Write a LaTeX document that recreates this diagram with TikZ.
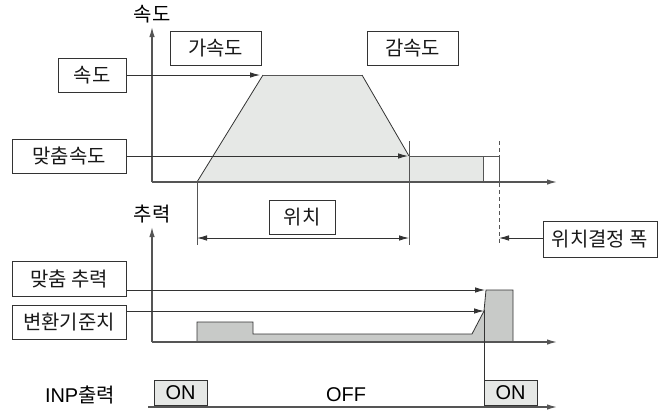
\documentclass[tikz,border=0pt]{standalone}
\usepackage{fontspec}
\setmainfont{Noto Sans CJK KR}
\newfontfamily\lat{Liberation Sans}
\usetikzlibrary{arrows.meta}
\definecolor{lnc}{HTML}{333333}
\definecolor{axc}{HTML}{555555}
\definecolor{fillA}{HTML}{E6E8E6}
\definecolor{fillB}{HTML}{C8CAC8}
\tikzset{
  lbox/.style={draw=lnc, line width=0.9bp, inner sep=0pt, minimum height=34bp, font=\fontsize{20}{22}\selectfont, text=black!90},
  onbox/.style={draw=lnc, fill=fillA, line width=0.9bp, inner sep=0pt, minimum width=53bp, minimum height=25bp, font=\lat\fontsize{20}{22}\selectfont},
  plain/.style={inner sep=0pt, font=\fontsize{20}{22}\selectfont},
  arr/.style={draw=lnc, line width=0.8bp, -{Latex[length=10bp,width=5.5bp]}},
  darr/.style={draw=lnc, line width=0.8bp, {Latex[length=10bp,width=5.5bp]}-{Latex[length=10bp,width=5.5bp]}},
  axis/.style={draw=axc, line width=1.3bp, -{Latex[length=10bp,width=5.5bp]}},
  ln/.style={draw=lnc, line width=0.8bp},
}
\begin{document}
\begin{tikzpicture}[x=1bp,y=-1bp]
\useasboundingbox (0,0) rectangle (667,414);
% fills
\fill[fillA] (197,182) -- (263,75) -- (362,75) -- (409,156) -- (483,156) -- (483,182) -- cycle;
\fill[fillB] (197,342) -- (197,322) -- (253,322) -- (253,334) -- (472,334) -- (484,311) -- (486,290) -- (513,290) -- (513,342) -- cycle;
% speed profile outline
\draw[ln] (197,182) -- (263,75);
\draw[draw=axc, line width=1bp] (263,75) -- (362,75);
\draw[ln] (362,75) -- (409,156);
\draw[draw=axc, line width=1bp] (409,156) -- (499,156);
\draw[draw=axc, line width=1bp] (483,156) -- (483,182);
\draw[draw=axc, line width=1bp] (499,156) -- (499,182);
% force profile outline
\draw[ln] (197,342) -- (197,322) -- (253,322) -- (253,334) -- (472,334) -- (484,311) -- (486,290) -- (513,290) -- (513,342);
% axes
\coordinate (o1) at (152,182);
\coordinate (o2) at (152,342);
\coordinate (o3) at (148,407);
\draw[axis] (o1) -- (152,27);
\draw[axis] (o1) -- (557,182);
\draw[axis] (o2) -- (152,227);
\draw[axis] (o2) -- (557,342);
\draw[axis] (o3) -- (557,407);
\node[plain] (ylab1) at (152,14) {속도};
\node[plain] (ylab2) at (152,214) {추력};
% ticks
\draw[ln, line width=1bp, draw=axc] (197,182) -- (197,245);
\draw[ln, line width=1bp, draw=axc] (409,141) -- (409,245);
\draw[draw=axc, line width=1bp, dash pattern=on 4bp off 3bp] (499,141) -- (499,245);
% boxes
\node[lbox, minimum width=91bp] (acc) at (215.5,48) {가속도};
\node[lbox, minimum width=91bp] (dec) at (412.5,48) {감속도};
\node[lbox, minimum width=68bp] (spd) at (92,75) {속도};
\node[lbox, minimum width=114bp] (mspd) at (69,156) {맞춤속도};
\node[lbox, minimum width=66bp] (pos) at (302,217) {위치};
\node[lbox, minimum width=114bp, minimum height=36bp] (pw) at (600,239) {위치결정 폭};
\node[lbox, minimum width=114bp, minimum height=35bp] (mf) at (69,278.5) {맞춤 추력};
\node[lbox, minimum width=114bp] (cv) at (69,322) {변환기준치};
% connectors
\coordinate (spdend) at (260,75);
\coordinate (mspdend) at (408,156);
\coordinate (p1) at (197,238);
\coordinate (p2) at (409,238);
\coordinate (pwend) at (499,238);
\coordinate (mfend) at (485,290);
\coordinate (cvend) at (484,311);
\draw[arr] (spd.east) -- (spdend);
\draw[arr] (mspd.east) -- (mspdend);
\draw[darr] (p1) -- (p2);
\draw[arr] (pw.west |- pwend) -- (pwend);
\draw[arr] (mf.east |- mfend) -- (mfend);
\draw[arr] (cv.east |- cvend) -- (cvend);
% INP
\node[plain] (inp) at (80,395) {{\lat INP}출력};
\node[onbox] (on1) at (180.5,392.5) {ON};
\node[onbox] (on2) at (510.5,392.5) {ON};
\node[plain, font=\lat\fontsize{20}{22}\selectfont] (off) at (346,395) {OFF};
\coordinate (sw) at (484,310);
\draw[ln] (sw) -- (sw |- on2.north);
\end{tikzpicture}
\end{document}
